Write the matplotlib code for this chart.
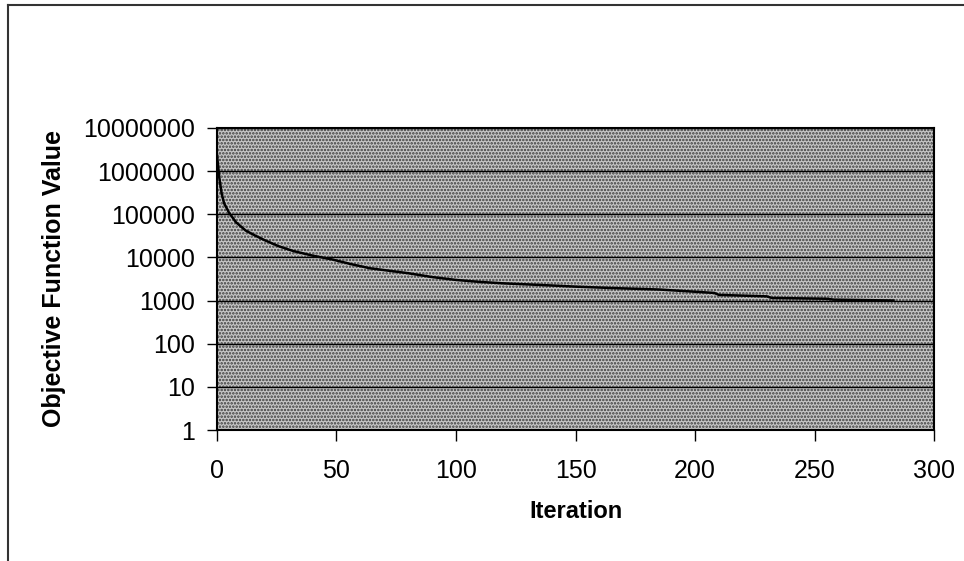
import matplotlib
matplotlib.use('Agg')
import matplotlib.pyplot as plt
from matplotlib.lines import Line2D

plt.rcParams['font.family'] = ['Liberation Sans', 'DejaVu Sans']
plt.rcParams['hatch.color'] = '#3a3a3a'
plt.rcParams['hatch.linewidth'] = 1.2

# objective value per iteration
iterations = [0, 1, 2, 3, 5, 8, 12, 16, 20, 26, 32, 40, 48, 56, 64, 72, 80,
              90, 100, 110, 120, 135, 150, 165, 185, 200, 208, 210, 230, 232,
              255, 258, 283]
objective = [2.5e6, 7e5, 3e5, 1.8e5, 1.1e5, 6.5e4, 4.2e4, 3.2e4, 2.5e4, 1.8e4,
             1.4e4, 1.1e4, 9e3, 7e3, 5.6e3, 4.9e3, 4.3e3, 3.5e3, 3.0e3, 2.7e3,
             2.5e3, 2.3e3, 2.1e3, 1.95e3, 1.8e3, 1.6e3, 1.5e3, 1.35e3, 1.25e3,
             1.15e3, 1.1e3, 1.05e3, 1.0e3]

x_ticks = [0, 50, 100, 150, 200, 250, 300]
y_ticks = [1, 10, 100, 1000, 10000, 100000, 1000000, 10000000]

fig = plt.figure(figsize=(9.64, 5.61), dpi=100)
ax = fig.add_axes([0.225, 0.2335, 0.744, 0.5385])

ax.set_facecolor('#c6c6c6')
ax.patch.set_hatch('.....')
ax.patch.set_edgecolor('#3a3a3a')

ax.plot(iterations, objective, color='black', lw=1.8, zorder=3)

ax.set_yscale('log')
ax.set_xlim(0, 300)
ax.set_ylim(1, 1e7)
ax.set_xticks(x_ticks)
ax.set_xticklabels([str(t) for t in x_ticks])
ax.set_yticks(y_ticks)
ax.set_yticklabels([str(t) for t in y_ticks])
ax.minorticks_off()
ax.yaxis.grid(True, color='black', lw=1.0)
ax.set_axisbelow(False)

ax.tick_params(axis='y', direction='out', length=7, width=1, pad=9, labelsize=18)
ax.tick_params(axis='x', direction='out', length=8, width=1, pad=13, labelsize=18)
for s in ax.spines.values():
    s.set_linewidth(1.5)
    s.set_color('black')

ax.set_xlabel('Iteration', fontsize=17, fontweight='bold', labelpad=12)
ax.set_ylabel('Objective Function Value', fontsize=18, fontweight='bold', labelpad=12)

# outer chart frame (left and top edges)
fig.add_artist(Line2D([8 / 964, 8 / 964], [1 - 5 / 561, 0], color='#333333', lw=1.5))
fig.add_artist(Line2D([8 / 964, 1], [1 - 5 / 561, 1 - 5 / 561], color='#333333', lw=1.5))

fig.savefig('out.png', dpi=100)
